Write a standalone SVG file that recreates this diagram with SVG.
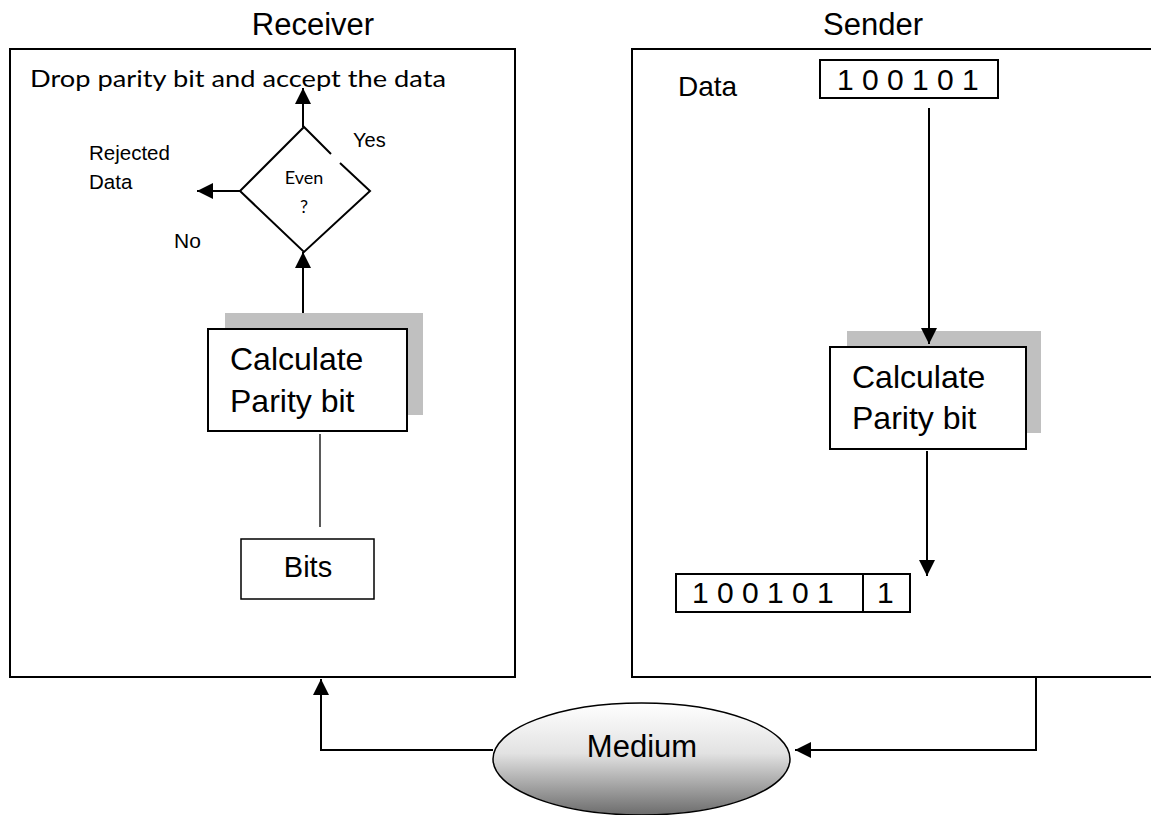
<svg xmlns="http://www.w3.org/2000/svg" width="1151" height="815" viewBox="0 0 1151 815">
<style>
.box{fill:#fff;stroke:#000;stroke-width:2}
.shadow{fill:#c0c0c0;stroke:none}
.t{font-family:"Liberation Sans",Arial,sans-serif;fill:#000}
.c{font-family:Lato,"Open Sans",sans-serif;fill:#000}
.ln{fill:none;stroke:#000;stroke-width:2}
.thin{fill:none;stroke:#000;stroke-width:1.3}
</style>
<defs>
<marker id="ah" markerUnits="userSpaceOnUse" markerWidth="17" markerHeight="17" refX="16" refY="8" orient="auto">
<path d="M0,0 L16,8 L0,16 Z" fill="#000"/>
</marker>
<linearGradient id="mg" x1="0" y1="0" x2="0" y2="1">
<stop offset="0" stop-color="#ffffff"/>
<stop offset="0.45" stop-color="#e2e2e2"/>
<stop offset="1" stop-color="#6c6c6c"/>
</linearGradient>
</defs>

<g id="receiver">
<rect class="box" x="10" y="49" width="505" height="628"/>
<text class="t" x="313" y="35" font-size="31" text-anchor="middle">Receiver</text>
<text class="c" x="30" y="87" font-size="23.5" textLength="416" lengthAdjust="spacingAndGlyphs">Drop parity bit and accept the data</text>
</g>

<g id="sender">
<rect class="box" x="632" y="49" width="530" height="628"/>
<text class="t" x="873" y="35" font-size="31" text-anchor="middle">Sender</text>
<text class="t" x="678" y="96" font-size="28">Data</text>
</g>

<g id="decision">
<path class="ln" d="M331,154 L304,127 L240,191 L304,252 L370,191 L340,163"/>
<text class="c" x="304" y="184" font-size="18" text-anchor="middle">Even</text>
<text class="c" x="304" y="213" font-size="18" text-anchor="middle">?</text>
</g>

<g id="labels">
<text class="t" x="353" y="147" font-size="20">Yes</text>
<text class="t" x="89" y="160" font-size="20.5">Rejected</text>
<text class="t" x="89" y="189" font-size="20.5">Data</text>
<text class="t" x="174" y="248" font-size="21">No</text>
</g>

<g id="calc-receiver">
<rect class="shadow" x="225" y="313" width="198" height="102"/>
<rect class="box" x="208" y="329" width="199" height="102"/>
<text class="t" x="230" y="370" font-size="32">Calculate</text>
<text class="t" x="230" y="412" font-size="32">Parity bit</text>
</g>

<g id="bits">
<rect class="box" x="241" y="539" width="133" height="60" style="stroke-width:1.5"/>
<text class="t" x="308" y="577" font-size="29" text-anchor="middle">Bits</text>
</g>

<g id="data-box">
<rect class="box" x="820" y="60" width="178" height="38"/>
<text class="t" x="837" y="90" font-size="30">1 0 0 1 0 1</text>
</g>

<g id="calc-sender">
<rect class="shadow" x="847" y="331" width="194" height="102"/>
<rect class="box" x="830" y="347" width="196" height="102"/>
<text class="t" x="852" y="388" font-size="32">Calculate</text>
<text class="t" x="852" y="429" font-size="32">Parity bit</text>
</g>

<g id="frame">
<rect class="box" x="676" y="574" width="234" height="38"/>
<line class="ln" x1="863" y1="574" x2="863" y2="612"/>
<text class="t" x="692" y="603" font-size="30">1 0 0 1 0 1</text>
<text class="t" x="877" y="603" font-size="30">1</text>
</g>

<g id="medium">
<ellipse cx="641.5" cy="759" rx="148.5" ry="56" fill="url(#mg)" stroke="#000" stroke-width="1.5"/>
<text class="t" x="642" y="757" font-size="31" text-anchor="middle">Medium</text>
</g>

<g id="connectors">
<line class="ln" x1="303" y1="127" x2="303" y2="88" marker-end="url(#ah)"/>
<line class="ln" x1="240" y1="191" x2="197" y2="191" marker-end="url(#ah)"/>
<line class="ln" x1="303" y1="313" x2="303" y2="252" marker-end="url(#ah)"/>
<line class="thin" x1="320" y1="434" x2="320" y2="527"/>
<line class="ln" x1="929" y1="108" x2="929" y2="344" marker-end="url(#ah)"/>
<line class="ln" x1="927" y1="451" x2="927" y2="576" marker-end="url(#ah)"/>
<polyline class="ln" points="1036,677 1036,750 795,750" marker-end="url(#ah)"/>
<polyline class="ln" points="493,750 321,750 321,679" marker-end="url(#ah)"/>
</g>
</svg>
